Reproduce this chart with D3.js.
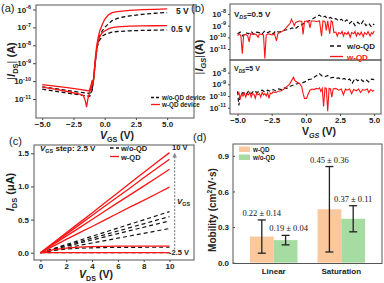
<!DOCTYPE html>
<html>
<head>
<meta charset="utf-8">
<script src="https://d3js.org/d3.v7.min.js"></script>
<style>
body { margin: 0; background: #fff; }
svg { display: block; font-family: "Liberation Sans", Arial, sans-serif; }
.tick text { font-size: 8px; font-weight: bold; fill: #222; }
.tick line { stroke: #444; }
.frame { fill: none; stroke: #555; stroke-width: 1; }
.lbl { font-weight: bold; fill: #222; }
</style>
</head>
<body>
<svg id="fig" width="384" height="283"></svg>
<script>

var red = "#ff1414";

// (a) transfer curves, [VGS, log10 |IDS|]
var aRed5 = [[-5,-10.2],[-4,-10.28],[-3,-10.36],[-2,-10.46],[-1.25,-10.55],[-1.1,-10.25],[-1.0,-9.95],[-0.92,-10.2],[-0.85,-9.6],[-0.75,-8.7],[-0.65,-8.1],[-0.55,-7.65],[-0.4,-7.2],[-0.2,-6.85],[0,-6.55],[0.3,-6.3],[0.6,-6.18],[1,-6.12],[2,-6.05],[3,-6.01],[4,-5.99],[5,-5.97]];
var aRed05 = [[-5,-10.33],[-4,-10.45],[-3,-10.58],[-2,-10.72],[-1.7,-10.82],[-1.55,-11.1],[-1.45,-11.45],[-1.35,-11.0],[-1.2,-10.6],[-1.05,-10.3],[-0.9,-9.9],[-0.8,-9.3],[-0.7,-8.6],[-0.6,-8.05],[-0.5,-7.7],[-0.35,-7.45],[-0.2,-7.3],[0,-7.2],[0.3,-7.08],[0.6,-7.01],[1,-6.97],[2,-6.93],[3,-6.92],[4,-6.91],[5,-6.9]];
var aBlk5 = [[-5,-10.32],[-4,-10.42],[-3,-10.52],[-2,-10.62],[-1.2,-10.69],[-1.0,-10.4],[-0.9,-9.9],[-0.8,-9.2],[-0.7,-8.5],[-0.6,-8.0],[-0.45,-7.55],[-0.2,-7.2],[0,-7.0],[0.3,-6.8],[0.6,-6.62],[1,-6.5],[1.5,-6.42],[2,-6.36],[3,-6.27],[4,-6.21],[5,-6.17]];
var aBlk05 = [[-5,-10.45],[-4,-10.56],[-3,-10.67],[-2,-10.77],[-1.2,-10.85],[-1.0,-10.5],[-0.9,-10.0],[-0.8,-9.3],[-0.7,-8.6],[-0.6,-8.1],[-0.45,-7.75],[-0.2,-7.5],[0,-7.4],[0.5,-7.28],[1,-7.23],[2,-7.19],[3,-7.17],[5,-7.14]];
var vgsTicks = [-5, -2.5, 0, 2.5, 5];
var aLogTicks = [-6, -7, -8, -9, -10, -11];

// (b) gate leakage, [VGS, log10 |IGS|]
var bRedLow = [[-5,-9.85],[-4.85,-9.7],[-4.75,-9.9],[-4.65,-11.4],[-4.55,-9.8],[-4.4,-9.75],[-4.25,-9.9],[-4.15,-10.4],[-4.05,-9.7],[-3.9,-9.75],[-3.75,-9.7],[-3.6,-9.8],[-3.5,-10.0],[-3.4,-9.7],[-3.25,-9.75],[-3.1,-9.8],[-3.0,-11.8],[-2.9,-9.8],[-2.75,-9.7],[-2.6,-9.75],[-2.45,-9.8],[-2.3,-9.7],[-2.15,-10.3],[-2.05,-9.7],[-1.9,-9.6],[-1.75,-9.5],[-1.6,-9.4],[-1.45,-9.2],[-1.3,-9.0],[-1.15,-8.8],[-1.05,-8.45],[-0.95,-8.7],[-0.85,-9.0],[-0.75,-8.75],[-0.6,-8.65],[-0.45,-8.6],[-0.3,-8.65],[-0.2,-9.75],[-0.1,-8.65],[0.05,-8.6],[0.2,-8.6],[0.3,-9.2],[0.4,-8.6],[0.6,-8.6],[0.8,-8.65],[1.0,-8.6],[1.15,-9.9],[1.25,-8.6],[1.4,-8.65],[1.5,-9.4],[1.6,-8.6],[1.75,-9.7],[1.85,-8.6],[1.95,-8.7],[2.05,-9.6],[2.2,-9.55],[2.3,-9.9],[2.4,-9.6],[2.55,-9.7],[2.65,-9.5],[2.75,-9.9],[2.85,-9.6],[3.0,-9.75],[3.1,-9.55],[3.25,-10.0],[3.35,-9.6],[3.5,-9.7],[3.6,-9.5],[3.7,-9.9],[3.8,-9.6],[3.95,-9.8],[4.05,-9.55],[4.2,-9.95],[4.3,-9.6],[4.45,-9.75],[4.55,-9.5],[4.7,-9.9],[4.8,-9.6],[4.9,-9.7],[5.0,-9.45]];
var bBlkLow = [[-5,-9.7],[-4.8,-9.55],[-4.6,-9.9],[-4.4,-9.6],[-4.2,-9.7],[-4.0,-9.5],[-3.8,-9.75],[-3.6,-9.55],[-3.4,-9.6],[-3.2,-9.7],[-3.0,-9.45],[-2.8,-9.6],[-2.6,-9.5],[-2.4,-9.7],[-2.2,-9.45],[-2.0,-9.55],[-1.8,-9.5],[-1.6,-9.4],[-1.4,-9.35],[-1.2,-9.3],[-1.0,-9.2],[-0.8,-9.3],[-0.6,-9.1],[-0.4,-9.0],[-0.2,-8.85],[0,-8.75],[0.2,-8.6],[0.4,-8.5],[0.6,-8.35],[0.8,-8.2],[1.0,-8.1],[1.2,-8.3],[1.4,-8.2],[1.6,-8.4],[1.8,-8.3],[2.0,-8.45],[2.2,-8.4],[2.4,-8.6],[2.6,-8.45],[2.8,-8.7],[3.0,-8.5],[3.2,-8.8],[3.4,-8.6],[3.6,-9.0],[3.8,-8.7],[4.0,-8.95],[4.2,-8.6],[4.4,-9.0],[4.6,-8.8],[4.8,-9.1],[5.0,-8.85]];
var bRedHigh = [[-5,-9.9],[-4.9,-9.7],[-4.8,-10.2],[-4.7,-9.8],[-4.6,-10.0],[-4.5,-9.75],[-4.4,-10.1],[-4.3,-9.8],[-4.2,-9.9],[-4.1,-9.7],[-4.0,-10.1],[-3.9,-9.8],[-3.8,-9.85],[-3.7,-10.2],[-3.6,-9.75],[-3.5,-9.9],[-3.4,-9.8],[-3.3,-10.1],[-3.2,-9.7],[-3.1,-9.9],[-3.0,-9.8],[-2.9,-10.0],[-2.8,-9.7],[-2.7,-10.2],[-2.6,-9.75],[-2.5,-9.8],[-2.4,-9.65],[-2.2,-9.7],[-2.0,-9.6],[-1.8,-9.55],[-1.6,-9.4],[-1.4,-9.2],[-1.2,-9.0],[-1.0,-8.6],[-0.9,-8.4],[-0.8,-8.7],[-0.6,-8.85],[-0.45,-8.95],[-0.3,-9.2],[-0.2,-9.8],[-0.1,-10.2],[0.05,-10.2],[0.15,-9.9],[0.3,-9.5],[0.45,-9.4],[0.6,-9.45],[0.75,-9.35],[0.9,-9.4],[1.0,-9.3],[1.1,-9.6],[1.2,-9.35],[1.3,-10.9],[1.4,-9.3],[1.5,-9.35],[1.6,-11.3],[1.7,-9.35],[1.8,-9.4],[1.9,-10.1],[2.0,-9.4],[2.2,-9.35],[2.4,-9.5],[2.6,-9.4],[2.75,-9.9],[2.9,-9.4],[3.0,-9.5],[3.2,-9.4],[3.35,-9.8],[3.5,-9.45],[3.7,-9.55],[3.85,-9.4],[4.0,-9.7],[4.15,-9.45],[4.3,-9.5],[4.5,-9.4],[4.6,-9.7],[4.75,-9.45],[4.9,-9.6],[5.0,-9.5]];
var bBlkHigh = [[-5,-9.6],[-4.9,-10.8],[-4.8,-9.9],[-4.6,-9.7],[-4.4,-9.9],[-4.2,-9.6],[-4.0,-9.8],[-3.8,-9.55],[-3.6,-9.7],[-3.4,-9.6],[-3.2,-9.5],[-3.0,-9.65],[-2.8,-9.5],[-2.6,-9.6],[-2.4,-9.45],[-2.2,-9.55],[-2.0,-9.4],[-1.8,-9.45],[-1.6,-9.3],[-1.4,-9.35],[-1.2,-9.2],[-1.0,-9.1],[-0.8,-9.0],[-0.6,-8.95],[-0.4,-8.9],[-0.2,-8.85],[0,-8.75],[0.2,-8.6],[0.4,-8.55],[0.6,-8.4],[0.8,-8.25],[1.0,-8.1],[1.2,-8.3],[1.4,-8.35],[1.6,-8.25],[1.8,-8.45],[2.0,-8.4],[2.2,-8.5],[2.4,-8.45],[2.6,-8.6],[2.8,-8.5],[3.0,-8.65],[3.2,-8.55],[3.4,-8.9],[3.6,-8.5],[3.8,-8.7],[4.0,-8.55],[4.2,-8.75],[4.4,-8.6],[4.6,-8.8],[4.8,-8.55],[5.0,-8.6]];
var bLogTicks = [-8, -9, -10, -11];

// (c) output curves, IDS in uA at each VDS, one row per VGS (-2.5 .. 10 V)
var vds = [0, 1, 2, 3, 4, 5, 6, 7, 8, 9, 10];
var cRed = [
  [0, 0.001, 0.002, 0.002, 0.002, 0.002, 0.002, 0.002, 0.002, 0.002, 0.002],
  [0, 0.045, 0.07, 0.085, 0.093, 0.097, 0.099, 0.1, 0.1, 0.1, 0.1],
  [0, 0.1, 0.2, 0.3, 0.395, 0.495, 0.595, 0.695, 0.79, 0.89, 0.99],
  [0, 0.125, 0.25, 0.375, 0.5, 0.63, 0.755, 0.88, 1.005, 1.13, 1.26],
  [0, 0.14, 0.28, 0.42, 0.56, 0.705, 0.845, 0.985, 1.13, 1.27, 1.41],
  [0, 0.15, 0.3, 0.45, 0.6, 0.755, 0.905, 1.06, 1.21, 1.36, 1.51]
];
var cBlk = [
  [0, 0.001, 0.001, 0.001, 0.001, 0.001, 0.001, 0.001, 0.001, 0.001, 0.001],
  [0, 0.035, 0.055, 0.067, 0.074, 0.078, 0.08, 0.081, 0.082, 0.082, 0.082],
  [0, 0.037, 0.073, 0.11, 0.146, 0.183, 0.219, 0.256, 0.292, 0.329, 0.365],
  [0, 0.048, 0.096, 0.144, 0.192, 0.24, 0.288, 0.336, 0.384, 0.432, 0.48],
  [0, 0.055, 0.109, 0.164, 0.218, 0.273, 0.327, 0.382, 0.436, 0.491, 0.545],
  [0, 0.062, 0.124, 0.186, 0.248, 0.31, 0.372, 0.434, 0.496, 0.558, 0.62]
];

// (d) mobility
var dCats = ["Linear", "Saturation"];
var dSeries = ["w-QD", "w/o-QD"];
var dMean = { "w-QD": [0.22, 0.45], "w/o-QD": [0.19, 0.37] };
var dErr = { "w-QD": [0.14, 0.36], "w/o-QD": [0.04, 0.11] };
var dColor = { "w-QD": "#fbc89c", "w/o-QD": "#a6dca1" };

var svg = d3.select("#fig");
var clipN = 0;

function frame(x0, y0, x1, y1) {
  svg.append("rect").attr("class", "frame")
    .attr("x", x0).attr("y", y0).attr("width", x1 - x0).attr("height", y1 - y0);
}

function clipRect(x0, y0, x1, y1) {
  var id = "clip" + (clipN++);
  svg.append("clipPath").attr("id", id).append("rect")
    .attr("x", x0).attr("y", y0).attr("width", x1 - x0).attr("height", y1 - y0);
  return svg.append("g").attr("clip-path", "url(#" + id + ")");
}

function powLabels(g) {
  g.selectAll(".tick text").each(function(d) {
    var t = d3.select(this);
    var e = Math.round(Math.log10(d));
    t.text("");
    t.append("tspan").text("10");
    t.append("tspan").attr("dy", -3.5).attr("font-size", "5.5px").text(String(e));
  });
}

function cleanAxis(g) {
  g.select(".domain").remove();
}

// parts: t text, i italic, sub / back (return from sub), sup / down (return from sup)
function label(x, y, parts, size, anchor, rotate) {
  var t = svg.append("text").attr("class", "lbl")
    .attr("font-size", size + "px")
    .attr("text-anchor", anchor || "start");
  if (rotate) t.attr("transform", "translate(" + x + "," + y + ") rotate(-90)");
  else t.attr("x", x).attr("y", y);
  parts.forEach(function(p) {
    var s = t.append("tspan").text(p.t);
    if (p.i) s.attr("font-style", "italic");
    if (p.sub) s.attr("font-size", (size * 0.68) + "px").attr("dy", size * 0.3);
    if (p.back) s.attr("dy", -size * 0.3);
    if (p.sup) s.attr("font-size", (size * 0.68) + "px").attr("dy", -size * 0.4);
    if (p.down) s.attr("dy", size * 0.4);
    if (p.fill) s.attr("fill", p.fill);
    if (p.w) s.attr("font-weight", p.w);
  });
  return t;
}

// ---------------- (a)
(function() {
  var L = 36, R = 194, T = 5, B = 118;
  var x = d3.scaleLinear().domain([-5.5, 7.15]).range([L, R]);
  var y = d3.scaleLog().domain([Math.pow(10, -12.06), Math.pow(10, -5.75)]).range([B, T]);
  var line = d3.line().x(function(d) { return x(d[0]); }).y(function(d) { return y(Math.pow(10, d[1])); });

  var g = clipRect(L, T, R, B);
  [aBlk5, aBlk05].forEach(function(c) {
    g.append("path").attr("d", line(c)).attr("fill", "none")
      .attr("stroke", "#111").attr("stroke-width", 1.3).attr("stroke-dasharray", "4,2.5");
  });
  [aRed5, aRed05].forEach(function(c) {
    g.append("path").attr("d", line(c)).attr("fill", "none")
      .attr("stroke", red).attr("stroke-width", 1.3);
  });

  svg.append("g").attr("transform", "translate(0," + B + ")")
    .call(d3.axisBottom(x).tickValues(vgsTicks).tickFormat(d3.format(".1f")).tickSize(2).tickPadding(1))
    .call(cleanAxis);
  svg.append("g").attr("transform", "translate(" + L + ",0)")
    .call(d3.axisLeft(y).tickValues(aLogTicks.map(function(e) { return Math.pow(10, e); })).tickSize(3).tickPadding(2))
    .call(cleanAxis).call(powLabels);
  frame(L, T, R, B);

  label(176, 14, [{t: "5 V"}], 8.5);
  label(171, 32, [{t: "0.5 V"}], 8.5);
  svg.append("line").attr("x1", 151).attr("x2", 160).attr("y1", 97.5).attr("y2", 97.5)
    .attr("stroke", "#111").attr("stroke-width", 1.3).attr("stroke-dasharray", "3,2");
  label(162, 100, [{t: "w/o-QD device"}], 6.3);
  svg.append("line").attr("x1", 151).attr("x2", 160).attr("y1", 104.5).attr("y2", 104.5)
    .attr("stroke", red).attr("stroke-width", 1.3);
  label(162, 107, [{t: "w-QD device"}], 6.3);

  label(117, 138.5, [{t: "V", i: 1}, {t: "GS", sub: 1}, {t: " (V)", back: 1}], 10.5, "middle");
  label(15, 61, [{t: "|", w: "normal"}, {t: "I", i: 1}, {t: "DS", sub: 1}, {t: "|", back: 1, w: "normal"}, {t: " (A)"}], 11, "middle", true);
  svg.append("text").attr("x", 1).attr("y", 12).attr("font-size", "11px").attr("fill", "#222").text("(a)");
})();

// ---------------- (b)
(function() {
  var L = 230, R = 381, T = 4, M = 60, B = 114;
  var x = d3.scaleLinear().domain([-5.55, 5.5]).range([L, R]);
  var yU = d3.scaleLog().domain([Math.pow(10, -11.94), Math.pow(10, -7.15)]).range([M, T]);
  var yL = d3.scaleLog().domain([Math.pow(10, -11.54), Math.pow(10, -6.92)]).range([B, M]);

  function draw(y, blk, rd, y0, y1) {
    var line = d3.line().x(function(d) { return x(d[0]); }).y(function(d) { return y(Math.pow(10, d[1])); });
    var g = clipRect(L, y0, R, y1);
    g.append("path").attr("d", line(blk)).attr("fill", "none")
      .attr("stroke", "#111").attr("stroke-width", 1.2).attr("stroke-dasharray", "4,2.5");
    g.append("path").attr("d", line(rd)).attr("fill", "none")
      .attr("stroke", red).attr("stroke-width", 1.1);
    svg.append("g").attr("transform", "translate(" + L + ",0)")
      .call(d3.axisLeft(y).tickValues(bLogTicks.map(function(e) { return Math.pow(10, e); })).tickSize(2).tickPadding(2))
      .call(cleanAxis).call(powLabels);
  }
  draw(yU, bBlkLow, bRedLow, T, M);
  draw(yL, bBlkHigh, bRedHigh, M, B);

  svg.append("g").attr("transform", "translate(0," + B + ")")
    .call(d3.axisBottom(x).tickValues(vgsTicks).tickFormat(d3.format(".1f")).tickSize(2).tickPadding(1))
    .call(cleanAxis);
  frame(L, T, R, M);
  frame(L, M, R, B);

  label(234, 17, [{t: "V"}, {t: "DS", sub: 1, i: 1}, {t: "=0.5 V", back: 1}], 8);
  label(234, 71, [{t: "V"}, {t: "DS", sub: 1, i: 1}, {t: "=5 V", back: 1}], 7);
  svg.append("line").attr("x1", 330).attr("x2", 343).attr("y1", 46).attr("y2", 46)
    .attr("stroke", "#111").attr("stroke-width", 1.3).attr("stroke-dasharray", "4,3");
  label(347, 49, [{t: "w/o-QD"}], 8);
  svg.append("line").attr("x1", 330).attr("x2", 343).attr("y1", 56.5).attr("y2", 56.5)
    .attr("stroke", red).attr("stroke-width", 1.3);
  label(347, 59.5, [{t: "w-QD", fill: red}], 8);

  label(319, 135, [{t: "V"}, {t: "GS", sub: 1, i: 1}, {t: " (V)", back: 1}], 10.5, "middle");
  label(203, 57, [{t: "|", w: "normal"}, {t: "I", i: 1}, {t: "GS", sub: 1, i: 1}, {t: "|", back: 1, w: "normal"}, {t: "(A)"}], 11, "middle", true);
  svg.append("text").attr("x", 191).attr("y", 12).attr("font-size", "11px").attr("fill", "#222").text("(b)");
})();

// ---------------- (c)
(function() {
  var L = 34, R = 194, T = 145, B = 260;
  var x = d3.scaleLinear().domain([-0.5, 11.9]).range([L, R]);
  var y = d3.scaleLinear().domain([-0.11, 1.625]).range([B, T]);
  var line = d3.line().x(function(d, i) { return x(vds[i]); }).y(function(d) { return y(d); });

  var g = clipRect(L, T, R, B);
  cBlk.forEach(function(c) {
    g.append("path").attr("d", line(c)).attr("fill", "none")
      .attr("stroke", "#111").attr("stroke-width", 1.2).attr("stroke-dasharray", "4,3");
  });
  cRed.forEach(function(c) {
    g.append("path").attr("d", line(c)).attr("fill", "none")
      .attr("stroke", red).attr("stroke-width", 1.3);
  });

  // VGS direction arrow
  svg.append("line").attr("x1", x(10.4)).attr("x2", x(10.4)).attr("y1", y(0.05)).attr("y2", y(1.45))
    .attr("stroke", "#888").attr("stroke-width", 1.2).attr("stroke-dasharray", "2,1.5");
  svg.append("path").attr("fill", "#888")
    .attr("d", "M" + x(10.4) + "," + (y(1.45) - 4) + "l-2.2,5h4.4z");

  svg.append("g").attr("transform", "translate(0," + B + ")")
    .call(d3.axisBottom(x).tickValues([0, 2, 4, 6, 8, 10]).tickSize(2).tickPadding(1))
    .call(cleanAxis);
  svg.append("g").attr("transform", "translate(" + L + ",0)")
    .call(d3.axisLeft(y).tickValues([0, 0.5, 1.0, 1.5]).tickFormat(d3.format(".1f")).tickSize(3).tickPadding(2))
    .call(cleanAxis);
  frame(L, T, R, B);

  label(40, 151, [{t: "V", i: 1}, {t: "GS", sub: 1}, {t: " step: 2.5 V", back: 1}], 8);
  svg.append("line").attr("x1", 110).attr("x2", 119).attr("y1", 148).attr("y2", 148)
    .attr("stroke", "#111").attr("stroke-width", 1.3).attr("stroke-dasharray", "3.5,2.5");
  label(121, 151, [{t: "w/o-QD"}], 7.5);
  svg.append("line").attr("x1", 110).attr("x2", 119).attr("y1", 156.5).attr("y2", 156.5)
    .attr("stroke", red).attr("stroke-width", 1.3);
  label(121, 159.5, [{t: "w-QD"}], 7.5);
  label(172, 150, [{t: "10 V"}], 7.5);
  label(177, 204, [{t: "V", i: 1}, {t: "GS", sub: 1}], 8);
  label(169, 255, [{t: "-2.5 V"}], 7.5);

  label(96, 277.5, [{t: "V", i: 1}, {t: "DS", sub: 1}, {t: " (V)", back: 1}], 10.5, "middle");
  label(14, 192, [{t: "I", i: 1}, {t: "DS", sub: 1}, {t: " (\u03bcA)", back: 1}], 11, "middle", true);
  svg.append("text").attr("x", 9).attr("y", 145).attr("font-size", "11px").attr("fill", "#222").text("(c)");
})();

// ---------------- (d)
(function() {
  var L = 233, R = 382, T = 144, B = 263.5;
  var x = d3.scaleBand().domain(dCats).range([L, R]).paddingInner(0.296).paddingOuter(0.25);
  var xs = d3.scaleBand().domain(dSeries).range([0, x.bandwidth()]);
  var y = d3.scaleLinear().domain([-0.007, 1.0]).range([B, T]);

  var rows = [];
  dCats.forEach(function(c, ci) {
    dSeries.forEach(function(s) {
      rows.push({ cat: c, s: s, v: dMean[s][ci], e: dErr[s][ci] });
    });
  });

  svg.selectAll(".bar").data(rows).enter().append("rect").attr("class", "bar")
    .attr("x", function(d) { return x(d.cat) + xs(d.s); })
    .attr("width", xs.bandwidth())
    .attr("y", function(d) { return y(d.v); })
    .attr("height", function(d) { return y(0) - y(d.v); })
    .attr("fill", function(d) { return dColor[d.s]; });

  var eb = svg.selectAll(".eb").data(rows).enter().append("g").attr("class", "eb")
    .attr("transform", function(d) { return "translate(" + (x(d.cat) + xs(d.s) + xs.bandwidth() / 2) + ",0)"; })
    .attr("stroke", "#222").attr("stroke-width", 1.3);
  eb.append("line").attr("y1", function(d) { return y(d.v - d.e); }).attr("y2", function(d) { return y(d.v + d.e); });
  eb.append("line").attr("x1", -4).attr("x2", 4).attr("y1", function(d) { return y(d.v - d.e); }).attr("y2", function(d) { return y(d.v - d.e); });
  eb.append("line").attr("x1", -4).attr("x2", 4).attr("y1", function(d) { return y(d.v + d.e); }).attr("y2", function(d) { return y(d.v + d.e); });

  svg.selectAll(".vt").data(rows).enter().append("text").attr("class", "vt")
    .attr("x", function(d) { return x(d.cat) + xs(d.s) + xs.bandwidth() / 2 + (d.s === "w/o-QD" && d.cat === "Linear" ? 3 : 0); })
    .attr("y", function(d) { return y(d.v + d.e) - 4; })
    .attr("text-anchor", "middle")
    .attr("font-family", "'Liberation Serif', 'Times New Roman', serif")
    .attr("font-size", "8.5px").attr("fill", "#111")
    .text(function(d) { return d.v.toFixed(2) + " \u00b1 " + d.e.toFixed(2); });

  svg.append("g").attr("transform", "translate(" + L + ",0)")
    .call(d3.axisLeft(y).tickValues([0, 0.3, 0.6, 0.9]).tickFormat(d3.format(".1f")).tickSize(-2).tickPadding(4))
    .call(cleanAxis);
  var ax = svg.append("g").attr("transform", "translate(0," + B + ")")
    .call(d3.axisBottom(x).tickSize(0).tickPadding(5))
    .call(cleanAxis);
  ax.selectAll("text").attr("font-size", "8px");
  frame(L, T, R, B);

  dSeries.forEach(function(s, i) {
    svg.append("rect").attr("x", 239).attr("y", 146.5 + i * 8).attr("width", 11).attr("height", 5.5)
      .attr("fill", dColor[s]);
    label(253, 151.5 + i * 8, [{t: s}], 6.3);
  });

  label(216, 210, [{t: "Mobility (cm"}, {t: "2", sup: 1}, {t: "/V\u00b7s)", down: 1}], 10, "middle", true);
  svg.append("text").attr("x", 193).attr("y", 141).attr("font-size", "11px").attr("fill", "#222").text("(d)");
})();

</script>
</body>
</html>
